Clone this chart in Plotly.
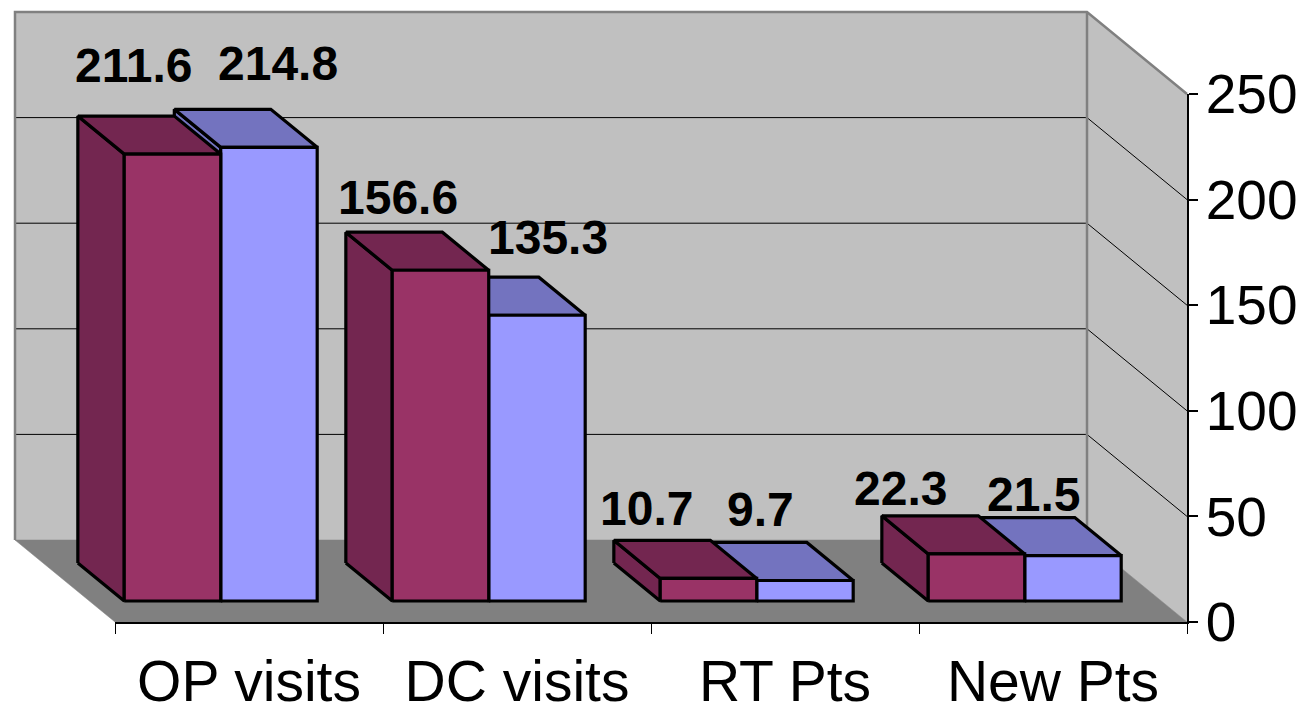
import plotly.graph_objects as go

# ---------------- data ----------------
categories = ["OP visits", "DC visits", "RT Pts", "New Pts"]
series_a = [211.6, 156.6, 10.7, 22.3]
series_b = [214.8, 135.3, 9.7, 21.5]
axis_ticks = [0, 50, 100, 150, 200, 250]

# ---------------- style / projection ----------------
PAGE_OFF = 8                       # default body margin of the html page
W, H = 1304 - PAGE_OFF, 719 - PAGE_OFF
ORIGIN_PX = (15 - PAGE_OFF, 540 - PAGE_OFF)   # back plane: category 0 left edge, value 0
CAT_PX = 268               # px per category
VAL_PX = 2.112             # px per value unit
DEPTH_PX = (100, 82)       # back plane -> front plane offset
VMAX = 250
NCAT = len(categories)

xmin = -ORIGIN_PX[0] / CAT_PX
xmax = (W - ORIGIN_PX[0]) / CAT_PX
ymin = -(H - ORIGIN_PX[1]) / VAL_PX
ymax = ORIGIN_PX[1] / VAL_PX
DXU = DEPTH_PX[0] / CAT_PX
DYV = DEPTH_PX[1] / VAL_PX

BAR_W = 0.36
BAR_LEFT = 0.13
D0, D1 = 0.28, 0.744

COL_A = ("#993366", "#732650")
COL_B = ("#9999FF", "#7373BF")
WALL = "#C0C0C0"
FLOOR = "#808080"
EDGE = "#808080"

FONT = "Liberation Sans, Arial, sans-serif"
LABEL_SIZE = 48

# label nudges (px): horizontal shift and baseline height above top-back centre of each bar
nudge_a = [(7, 33), (4, 17), (-16, 14), (-30, 10)]
nudge_b = [(55, 28), (57, 22), (2, 15), (7, 6)]
DESCENT = round(0.212 * LABEL_SIZE) + 1


def proj(c, v, d):
    return c + d * DXU, v - d * DYV


fig = go.Figure()


def poly(pts, fill, lc="black", lw=0):
    P = [proj(*p) for p in pts]
    P.append(P[0])
    fig.add_trace(go.Scatter(
        x=[p[0] for p in P], y=[p[1] for p in P], mode="lines",
        fill="toself", fillcolor=fill,
        line=dict(color=lc, width=lw),
        hoverinfo="skip", showlegend=False))


def line(pts, lc, lw):
    P = [proj(*p) for p in pts]
    fig.add_trace(go.Scatter(
        x=[p[0] for p in P], y=[p[1] for p in P], mode="lines",
        line=dict(color=lc, width=lw), hoverinfo="skip", showlegend=False))


# walls and floor
poly([(0, 0, 0), (NCAT, 0, 0), (NCAT, VMAX, 0), (0, VMAX, 0)], WALL, WALL, 0.5)
poly([(NCAT, 0, 0), (NCAT, 0, 1), (NCAT, VMAX, 1), (NCAT, VMAX, 0)], WALL, WALL, 0.5)
poly([(0, 0, 0), (NCAT, 0, 0), (NCAT, 0, 1), (0, 0, 1)], FLOOR, FLOOR, 0.5)

# gridlines
for t in axis_ticks:
    if 0 < t < VMAX:
        line([(0, t, 0), (NCAT, t, 0), (NCAT, t, 1)], "black", 1)

# wall borders
line([(0, 0, 0), (0, VMAX, 0), (NCAT, VMAX, 0), (NCAT, VMAX, 1)], EDGE, 2.5)
line([(NCAT, VMAX, 0), (NCAT, 0, 0)], EDGE, 2.5)


def bar(c, s, v, cols):
    x0 = c + BAR_LEFT + s * BAR_W
    x1 = x0 + BAR_W
    front, dark = cols
    poly([(x0, 0, D0), (x0, v, D0), (x0, v, D1), (x0, 0, D1)], dark, "black", 3.2)
    poly([(x0, v, D0), (x1, v, D0), (x1, v, D1), (x0, v, D1)], dark, "black", 3.2)
    poly([(x0, 0, D1), (x1, 0, D1), (x1, v, D1), (x0, v, D1)], front, "black", 3.2)


for c in reversed(range(NCAT)):
    bar(c, 1, series_b[c], COL_B)
    bar(c, 0, series_a[c], COL_A)

# data labels
annotations = []
for s, (vals, nudges) in enumerate([(series_a, nudge_a), (series_b, nudge_b)]):
    for c, v in enumerate(vals):
        x0 = c + BAR_LEFT + s * BAR_W
        ax, ay = proj(x0 + BAR_W / 2, v, D0)
        annotations.append(dict(
            x=ax, y=ay, xref="x", yref="y", text=f"{v:.1f}", showarrow=False,
            xanchor="center", yanchor="bottom",
            xshift=nudges[c][0], yshift=nudges[c][1] - DESCENT,
            font=dict(family=FONT, size=LABEL_SIZE, color="black", weight="bold")))

# front axes (real axes) on a second subplot aligned with the front plane
fx0 = (proj(0, 0, 1)[0] - xmin) / (xmax - xmin)
fx1 = (proj(NCAT, 0, 1)[0] - xmin) / (xmax - xmin)
fy0 = (proj(0, 0, 1)[1] - ymin) / (ymax - ymin)
fy1 = (proj(0, VMAX, 1)[1] - ymin) / (ymax - ymin)

fig.add_trace(go.Scatter(x=[None], y=[None], xaxis="x2", yaxis="y2",
                         showlegend=False, hoverinfo="skip"))

fig.update_layout(
    width=W, height=H, autosize=False,
    margin=dict(l=0, r=0, t=0, b=0, pad=0),
    paper_bgcolor="white", plot_bgcolor="rgba(0,0,0,0)",
    showlegend=False,
    annotations=annotations,
    xaxis=dict(range=[xmin, xmax], domain=[0, 1], visible=False, fixedrange=True),
    yaxis=dict(range=[ymin, ymax], domain=[0, 1], visible=False, fixedrange=True),
    xaxis2=dict(domain=[fx0, fx1], range=[0, NCAT], anchor="y2",
                tickvals=[i + 0.5 for i in range(NCAT)], ticktext=categories,
                ticks="", showline=True, linecolor="black", linewidth=1.5,
                showgrid=False, zeroline=False, fixedrange=True,
                minor=dict(tick0=0, dtick=1, ticks="outside", ticklen=10,
                           tickcolor="black", tickwidth=1, showgrid=False),
                tickfont=dict(family=FONT, size=57, color="black"),
                ticklabelstandoff=9, automargin=False),
    yaxis2=dict(domain=[fy0, fy1], range=[0, VMAX], anchor="x2", side="right",
                tickvals=axis_ticks, ticks="outside", ticklen=9,
                tickcolor="black", tickwidth=1.5,
                showline=True, linecolor="black", linewidth=1.5,
                showgrid=False, zeroline=False, fixedrange=True,
                tickfont=dict(family=FONT, size=55, color="black"),
                ticklabelstandoff=-3, automargin=False),
)

fig.write_html("out.html")
